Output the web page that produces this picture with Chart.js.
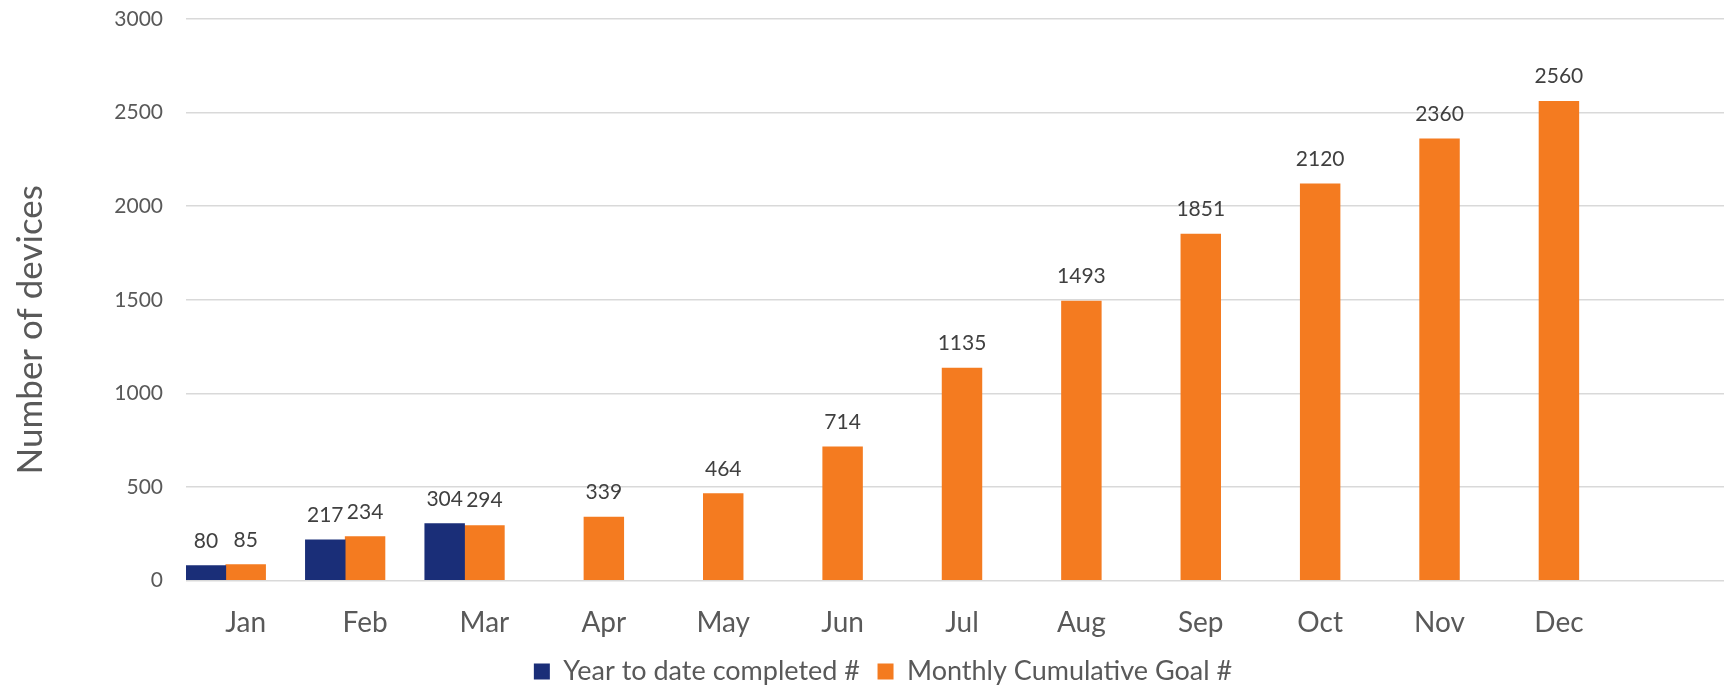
<!DOCTYPE html>
<html>
<head>
<meta charset="utf-8">
<script src="https://cdn.jsdelivr.net/npm/chart.js@4.4.1/dist/chart.umd.min.js"></script>
<style>
  html, body { margin:0; padding:0; background:#fff; overflow:hidden; }
  canvas { display:block; }
</style>
</head>
<body>
<canvas id="devicesChart" width="1766" height="695"></canvas>
<script>
// ===== 資料 =====
const months = ['Jan','Feb','Mar','Apr','May','Jun','Jul','Aug','Sep','Oct','Nov','Dec',''];
const completed = [80, 217, 304];
const cumulativeGoal = [85, 234, 294, 339, 464, 714, 1135, 1493, 1851, 2120, 2360, 2560];
const yTicks = { min: 0, max: 3000, step: 500 };
const seriesNames = ['Year to date completed #', 'Monthly Cumulative Goal #'];
const axisTitle = 'Number of devices';

Chart.defaults.font.family = 'Lato';

// 柱子上方數值
const valueLabels = {
  id: 'valueLabels',
  afterDatasetsDraw(chart){
    const ctx = chart.ctx;
    ctx.save();
    ctx.font = '21px Lato';
    ctx.fillStyle = '#404040';
    ctx.textAlign = 'center';
    ctx.textBaseline = 'alphabetic';
    chart.data.datasets.forEach((ds, i) => {
      if(ds.spacer) return;
      chart.getDatasetMeta(i).data.forEach((bar, j) => {
        const v = ds.data[j];
        if(v == null) return;
        ctx.fillText(String(v), bar.x, bar.y - 18);
      });
    });
    ctx.restore();
  }
};

// Y 軸標題（置中於繪圖區 + 月份標籤）
const yTitle = {
  id: 'yTitle',
  afterDraw(chart){
    const { ctx, chartArea, scales } = chart;
    const cy = (chartArea.top + scales.x.bottom) / 2;
    ctx.save();
    ctx.translate(scales.y.left + 42, cy);
    ctx.rotate(-Math.PI / 2);
    ctx.font = '35px Lato';
    ctx.fillStyle = '#595959';
    ctx.textAlign = 'center';
    ctx.textBaseline = 'alphabetic';
    ctx.fillText(axisTitle, 0, 0);
    ctx.restore();
  }
};

new Chart(document.getElementById('devicesChart'), {
  type: 'bar',
  data: {
    labels: months,
    datasets: [
      { label: seriesNames[0], data: completed, backgroundColor: '#1a2e78', borderWidth: 0 },
      { label: seriesNames[1], data: cumulativeGoal, backgroundColor: '#f47b20', borderWidth: 0 },
      { label: 'spacer', data: [], backgroundColor: 'rgba(0,0,0,0)', spacer: true }
    ]
  },
  options: {
    responsive: false,
    animation: false,
    categoryPercentage: 1,
    barPercentage: 1,
    layout: { padding: { top: 19, left: 0, right: 0, bottom: 0 } },
    scales: {
      x: {
        grid: { display: false },
        border: { display: false },
        ticks: { color: '#595959', font: { size: 28 }, padding: 18, maxRotation: 0, autoSkip: false },
        afterFit: s => { s.height = 60; }
      },
      y: {
        min: yTicks.min,
        max: yTicks.max,
        grid: { color: '#d9d9d9', lineWidth: 1.5, drawTicks: true, tickLength: 23, tickColor: 'rgba(0,0,0,0)' },
        border: { display: false },
        ticks: { stepSize: yTicks.step, color: '#595959', font: { size: 21 }, padding: 0, callback: v => String(v) },
        afterFit: s => { s.width = 186; }
      },
      pad: {
        type: 'linear',
        position: 'right',
        grid: { display: false },
        border: { display: false },
        ticks: { display: false },
        afterFit: s => { s.width = 28; }
      }
    },
    plugins: {
      legend: {
        position: 'bottom',
        labels: {
          color: '#595959',
          font: { size: 27 },
          boxWidth: 16,
          boxHeight: 16,
          padding: 17.5,
          filter: item => item.datasetIndex < 2
        }
      },
      tooltip: { enabled: false }
    }
  },
  plugins: [valueLabels, yTitle]
});
</script>
</body>
</html>
